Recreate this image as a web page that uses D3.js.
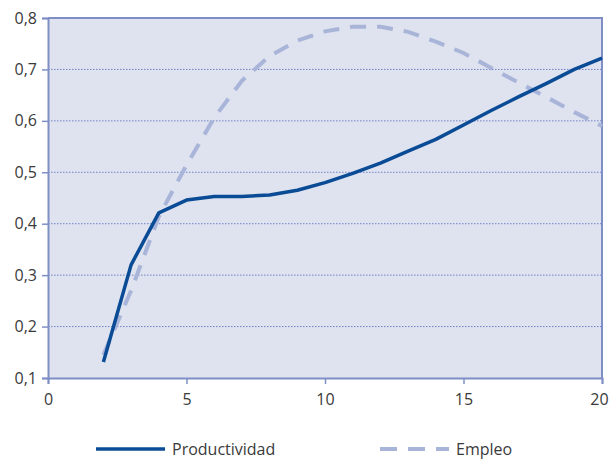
<!DOCTYPE html>
<html>
<head>
<meta charset="utf-8">
<script src="https://cdn.jsdelivr.net/npm/d3@7"></script>
<style>
  html, body { margin: 0; padding: 0; background: #fff; }
  svg { display: block; }
  text { font-family: "Open Sans", "Noto Sans", sans-serif; fill: #3a3a3a; }
</style>
</head>
<body>
<svg id="chart" width="610" height="461"></svg>
<script>
// Horizon (years)
const years = [2, 3, 4, 5, 6, 7, 8, 9, 10, 11, 12, 13, 14, 15, 16, 17, 18, 19, 20];
// Response of productivity
const productividad = [0.131, 0.32, 0.421, 0.446, 0.453, 0.453, 0.456, 0.465, 0.480, 0.498, 0.518, 0.541, 0.564, 0.592, 0.620, 0.647, 0.673, 0.700, 0.722];
// Response of employment
const empleo = [0.145, 0.27, 0.414, 0.514, 0.606, 0.678, 0.726, 0.756, 0.774, 0.783, 0.783, 0.773, 0.754, 0.732, 0.703, 0.674, 0.646, 0.617, 0.590];
const xTicks = [0, 5, 10, 15, 20];
const yTicks = [0.1, 0.2, 0.3, 0.4, 0.5, 0.6, 0.7, 0.8];
const seriesNames = ["Productividad", "Empleo"];

const svg = d3.select("#chart");
const m = { left: 48, top: 18, right: 602, bottom: 378 };
const axisColor = "#7f8fc6";

const x = d3.scaleLinear().domain([0, 20]).range([m.left, m.right]);
const y = d3.scaleLinear().domain([0.1, 0.8]).range([m.bottom, m.top]);

// plot background
svg.append("rect")
  .attr("x", m.left).attr("y", m.top)
  .attr("width", m.right - m.left).attr("height", m.bottom - m.top)
  .attr("fill", "#dfe2ef");

// dotted gridlines
svg.append("g").selectAll("line")
  .data(yTicks.filter(d => d > 0.1 && d < 0.8))
  .join("line")
  .attr("x1", m.left).attr("x2", m.right)
  .attr("y1", d => y(d)).attr("y2", d => y(d))
  .attr("stroke", "#6f82c8").attr("stroke-width", 1)
  .attr("stroke-dasharray", "1.5,1.5");

// frame: top and right borders
svg.append("path")
  .attr("d", `M${m.left},${m.top}H${m.right}V${m.bottom}`)
  .attr("fill", "none").attr("stroke", axisColor).attr("stroke-width", 2);

// axes
const fmt = d => d3.format(".1f")(d).replace(".", ",");
const yAxis = svg.append("g")
  .attr("transform", `translate(${m.left},0)`)
  .call(d3.axisLeft(y).tickValues(yTicks).tickFormat(fmt).tickSize(6).tickPadding(5));
const xAxis = svg.append("g")
  .attr("transform", `translate(0,${m.bottom})`)
  .call(d3.axisBottom(x).tickValues(xTicks).tickFormat(d3.format("d")).tickSize(6).tickPadding(10));

[yAxis, xAxis].forEach(g => {
  g.select(".domain").attr("stroke", axisColor).attr("stroke-width", 2);
  g.selectAll(".tick line").attr("stroke", axisColor).attr("stroke-width", 1.5);
  g.selectAll(".tick text").style("font-size", "16px").attr("fill", "#3a3a3a");
});
// keep the last x label inside the canvas edge
xAxis.selectAll(".tick text").filter(d => d === 20).attr("dx", "-3");

const line = d3.line().x((d, i) => x(years[i])).y(d => y(d));

// Empleo (dashed)
svg.append("path")
  .datum(empleo)
  .attr("d", line)
  .attr("fill", "none")
  .attr("stroke", "#a9b5d8")
  .attr("stroke-width", 4)
  .attr("stroke-dasharray", "16,11");

// Productividad (solid)
svg.append("path")
  .datum(productividad)
  .attr("d", line)
  .attr("fill", "none")
  .attr("stroke", "#0a4b96")
  .attr("stroke-width", 3.5)
  .attr("stroke-linejoin", "round");

// legend
const legendY = 449;
const legend = svg.append("g");
legend.append("line")
  .attr("x1", 96).attr("x2", 165).attr("y1", legendY).attr("y2", legendY)
  .attr("stroke", "#0a4b96").attr("stroke-width", 3.5);
legend.append("text")
  .attr("x", 172).attr("y", legendY + 6)
  .style("font-size", "16px")
  .text(seriesNames[0]);
legend.append("line")
  .attr("x1", 380).attr("x2", 449).attr("y1", legendY).attr("y2", legendY)
  .attr("stroke", "#a9b5d8").attr("stroke-width", 4)
  .attr("stroke-dasharray", "17,11");
legend.append("text")
  .attr("x", 456).attr("y", legendY + 6)
  .style("font-size", "16px")
  .text(seriesNames[1]);
</script>
</body>
</html>
